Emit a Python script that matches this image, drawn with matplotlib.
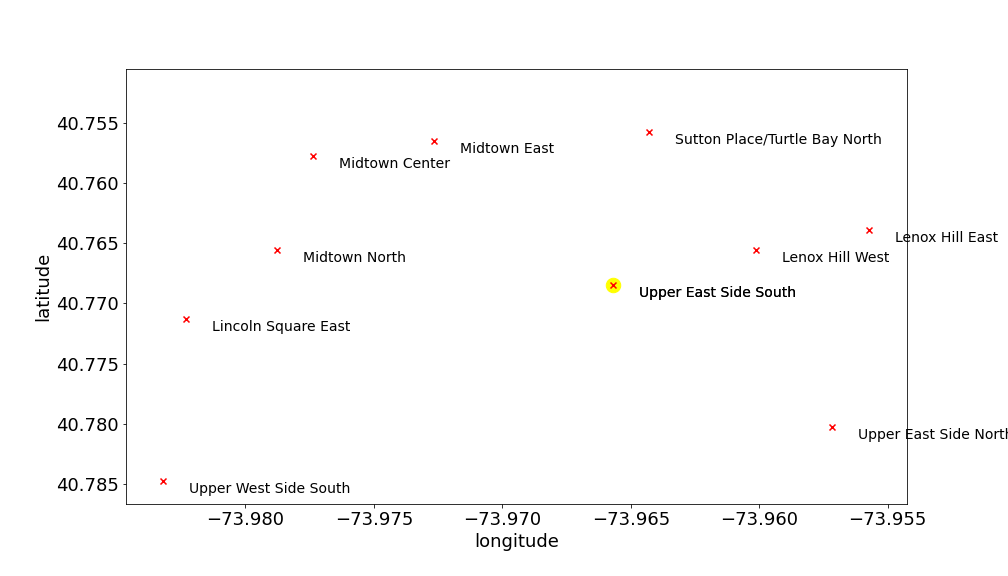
"""Scatter of Manhattan neighbourhood centroids with one highlighted zone."""

import matplotlib
matplotlib.use("Agg")
import matplotlib.pyplot as plt

# neighbourhood centroids
names = [
    "Upper West Side South",
    "Lincoln Square East",
    "Midtown North",
    "Midtown Center",
    "Midtown East",
    "Sutton Place/Turtle Bay North",
    "Upper East Side South",
    "Lenox Hill West",
    "Lenox Hill East",
    "Upper East Side North",
]
longitudes = [-73.98321, -73.98232, -73.97877, -73.97737, -73.97266,
              -73.96429, -73.96569, -73.96012, -73.95572, -73.95716]
latitudes = [40.78478, 40.77132, 40.76558, 40.75777, 40.75652,
             40.75577, 40.76849, 40.76558, 40.76392, 40.78030]

highlight = "Upper East Side South"


def main() -> None:
    fig, ax = plt.subplots(figsize=(14, 8), dpi=72)
    fig.subplots_adjust(left=0.125, right=0.9, top=0.88, bottom=0.125)

    # highlighted zone
    i = names.index(highlight)
    ax.scatter(longitudes[i], latitudes[i], s=210, c="yellow", marker="o")

    ax.scatter(longitudes, latitudes, s=36, c="red", marker="x")

    for name, lon, lat in zip(names, longitudes, latitudes):
        ax.text(lon + 0.001, lat + 0.001, name, fontsize=14)
    # label of the highlighted zone is drawn a second time
    ax.text(longitudes[i] + 0.001, latitudes[i] + 0.001, highlight, fontsize=14)

    ax.set_xlim(-73.98465, -73.95424)
    ax.set_ylim(40.78667, 40.75054)
    ax.set_xlabel("longitude", fontsize=18)
    ax.set_ylabel("latitude", fontsize=18)
    ax.tick_params(labelsize=18)

    fig.savefig("out.png", dpi=72)
    plt.close(fig)


if __name__ == "__main__":
    main()
